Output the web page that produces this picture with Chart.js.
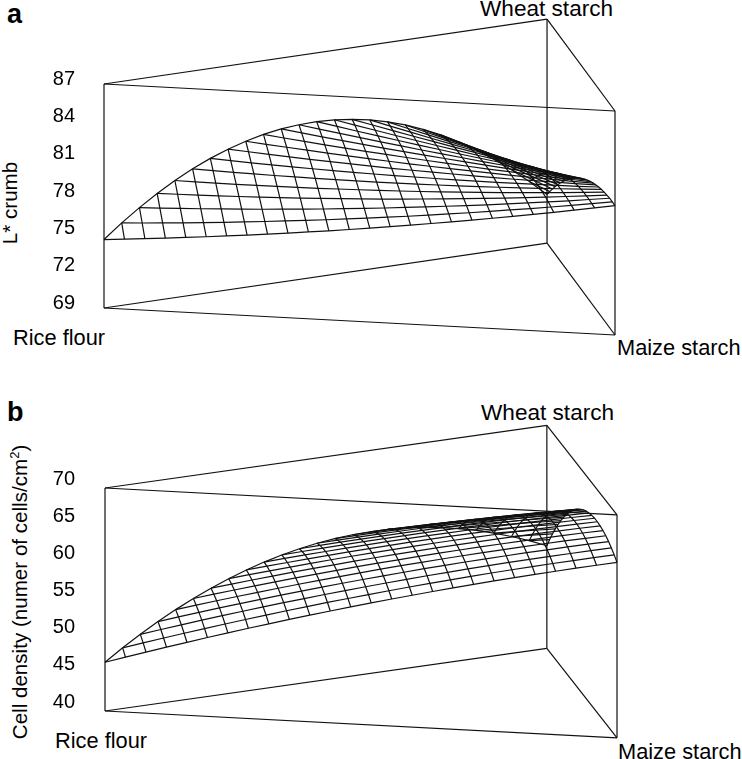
<!DOCTYPE html>
<html>
<head>
<meta charset="utf-8">
<title>Response surfaces</title>
<script src="https://cdn.jsdelivr.net/npm/chart.js@4"></script>
<style>
  html, body { margin: 0; padding: 0; background: #fff; }
  #page { position: relative; width: 742px; height: 759px; overflow: hidden; font-family: "Liberation Sans", Arial, sans-serif; color: #000; }
  canvas { position: absolute; left: 0; }
  .lab { position: absolute; font-size: 21.8px; line-height: 1; white-space: nowrap; }
  .wheat { font-size: 22.6px; }
  .letter { position: absolute; font-size: 27px; font-weight: bold; line-height: 1; }
  .ytitle { position: absolute; font-size: 20.6px; line-height: 1; white-space: nowrap; transform: translate(-50%, -50%) rotate(-90deg); }
  sup { font-size: 13px; line-height: 0; }
</style>
</head>
<body>
<div id="page">
  <div class="letter" style="left:7px;top:1px">a</div>
  <div class="letter" style="left:7px;top:399px">b</div>
  <div class="lab wheat" style="left:480px;top:-2px">Wheat starch</div>
  <div class="lab" style="left:13px;top:327px">Rice flour</div>
  <div class="lab" style="left:617px;top:337px">Maize starch</div>
  <div class="lab wheat" style="left:481px;top:402px">Wheat starch</div>
  <div class="lab" style="left:55px;top:730px">Rice flour</div>
  <div class="lab" style="left:618px;top:741px">Maize starch</div>
  <div class="ytitle" style="left:10px;top:203px">L* crumb</div>
  <div class="ytitle" style="left:20px;top:592px">Cell density (numer of cells/cm<sup>2</sup>)</div>
  <canvas id="chartA" width="742" height="385" style="top:0"></canvas>
  <canvas id="chartB" width="742" height="374" style="top:385px"></canvas>
</div>
<script>
// mesh heights, one row per wheat step, one column per maize step (rice is the rest)
const lCrumb = [
  [74.50,74.62,74.75,74.88,75.02,75.16,75.31,75.47,75.63,75.80,75.98,76.16,76.35,76.55,76.75,76.96,77.18,77.40,77.63,77.86,78.10,78.35,78.60,78.86,79.13,79.40],
  [75.63,75.71,75.80,75.90,76.00,76.11,76.23,76.35,76.48,76.61,76.75,76.90,77.06,77.22,77.38,77.56,77.74,77.92,78.12,78.32,78.52,78.73,78.95,79.18,79.41],
  [76.65,76.70,76.76,76.82,76.89,76.96,77.04,77.13,77.22,77.32,77.43,77.54,77.66,77.79,77.92,78.06,78.20,78.35,78.51,78.68,78.85,79.02,79.21,79.40],
  [77.58,77.60,77.62,77.64,77.68,77.71,77.76,77.81,77.87,77.94,78.01,78.08,78.17,78.26,78.36,78.46,78.57,78.68,78.81,78.94,79.07,79.21,79.36],
  [78.41,78.39,78.37,78.36,78.36,78.37,78.38,78.39,78.42,78.45,78.48,78.52,78.57,78.63,78.69,78.76,78.83,78.91,79.00,79.09,79.19,79.30],
  [79.14,79.08,79.03,78.99,78.95,78.92,78.90,78.88,78.87,78.86,78.86,78.87,78.88,78.90,78.93,78.96,79.00,79.05,79.10,79.16,79.22],
  [79.77,79.68,79.59,79.51,79.44,79.37,79.31,79.26,79.21,79.17,79.14,79.11,79.09,79.07,79.06,79.06,79.07,79.08,79.09,79.12],
  [80.30,80.18,80.05,79.94,79.83,79.73,79.64,79.55,79.46,79.39,79.32,79.26,79.20,79.15,79.10,79.07,79.04,79.01,78.99],
  [80.73,80.57,80.42,80.27,80.12,79.99,79.86,79.73,79.61,79.50,79.40,79.30,79.21,79.12,79.04,78.97,78.90,78.84],
  [81.07,80.87,80.68,80.49,80.31,80.14,79.98,79.82,79.67,79.52,79.38,79.24,79.12,79.00,78.88,78.77,78.67],
  [81.30,81.07,80.84,80.62,80.41,80.20,80.00,79.81,79.62,79.44,79.26,79.09,78.93,78.77,78.62,78.48],
  [81.43,81.17,80.91,80.65,80.40,80.16,79.92,79.69,79.47,79.25,79.04,78.84,78.64,78.45,78.26],
  [81.47,81.17,80.87,80.58,80.30,80.02,79.75,79.48,79.22,78.97,78.73,78.49,78.25,78.03],
  [81.41,81.07,80.74,80.41,80.09,79.78,79.47,79.17,78.88,78.59,78.31,78.04,77.77],
  [81.24,80.87,80.50,80.14,79.79,79.44,79.10,78.76,78.43,78.11,77.79,77.48],
  [80.98,80.57,80.17,79.77,79.38,79.00,78.62,78.25,77.89,77.53,77.18],
  [80.62,80.17,79.74,79.31,78.88,78.46,78.05,77.65,77.25,76.85],
  [80.16,79.68,79.21,78.74,78.28,77.83,77.38,76.94,76.50],
  [79.60,79.08,78.58,78.07,77.58,77.09,76.61,76.13],
  [78.94,78.39,77.85,77.31,76.78,76.25,75.74],
  [78.18,77.60,77.02,76.45,75.88,75.32],
  [77.32,76.70,76.09,75.48,74.88],
  [76.37,75.71,75.06,74.42],
  [75.31,74.62,73.94],
  [74.15,73.43],
  [72.90]
];

const cellDensity = [
  [46.56,47.40,48.22,49.03,49.82,50.61,51.38,52.14,52.88,53.62,54.34,55.04,55.74,56.42,57.09,57.74,58.39,59.02,59.64,60.24,60.83,61.41,61.98,62.53,63.07,63.60],
  [48.16,48.97,49.77,50.56,51.33,52.09,52.84,53.58,54.30,55.01,55.71,56.39,57.06,57.72,58.37,59.00,59.62,60.23,60.83,61.41,61.98,62.54,63.08,63.61,64.13],
  [49.64,50.43,51.21,51.98,52.73,53.47,54.19,54.91,55.61,56.30,56.97,57.63,58.28,58.92,59.54,60.15,60.75,61.34,61.91,62.47,63.02,63.55,64.07,64.58],
  [51.02,51.79,52.54,53.29,54.01,54.73,55.44,56.13,56.81,57.47,58.12,58.76,59.39,60.01,60.61,61.20,61.77,62.33,62.89,63.42,63.95,64.46,64.96],
  [52.29,53.03,53.77,54.49,55.19,55.89,56.57,57.24,57.89,58.54,59.17,59.79,60.39,60.98,61.56,62.13,62.68,63.22,63.75,64.27,64.77,65.26],
  [53.45,54.17,54.88,55.58,56.26,56.94,57.60,58.24,58.88,59.50,60.10,60.70,61.28,61.85,62.41,62.95,63.48,64.00,64.51,65.00,65.48],
  [54.50,55.20,55.89,56.56,57.23,57.88,58.51,59.14,59.75,60.35,60.93,61.50,62.06,62.61,63.15,63.67,64.18,64.67,65.16,65.63],
  [55.44,56.12,56.79,57.44,58.08,58.71,59.32,59.92,60.51,61.09,61.65,62.20,62.74,63.26,63.78,64.27,64.76,65.23,65.70],
  [56.28,56.93,57.57,58.21,58.82,59.43,60.02,60.60,61.17,61.72,62.26,62.79,63.30,63.81,64.29,64.77,65.24,65.69],
  [57.00,57.63,58.25,58.86,59.46,60.04,60.61,61.17,61.71,62.24,62.76,63.27,63.76,64.24,64.71,65.16,65.60],
  [57.62,58.23,58.83,59.41,59.98,60.54,61.09,61.63,62.15,62.66,63.15,63.64,64.11,64.56,65.01,65.44],
  [58.12,58.71,59.29,59.85,60.40,60.94,61.46,61.98,62.48,62.96,63.44,63.90,64.34,64.78,65.20],
  [58.52,59.09,59.64,60.18,60.71,61.23,61.73,62.22,62.70,63.16,63.61,64.05,64.47,64.89],
  [58.81,59.36,59.89,60.41,60.91,61.40,61.88,62.35,62.81,63.25,63.68,64.09,64.49],
  [58.99,59.51,60.02,60.52,61.00,61.47,61.93,62.37,62.81,63.23,63.63,64.03],
  [59.06,59.56,60.05,60.52,60.98,61.43,61.87,62.29,62.70,63.10,63.48],
  [59.03,59.50,59.97,60.42,60.86,61.28,61.70,62.10,62.48,62.86],
  [58.88,59.34,59.78,60.21,60.62,61.03,61.42,61.79,62.16],
  [58.63,59.06,59.48,59.89,60.28,60.66,61.03,61.38],
  [58.26,58.67,59.07,59.45,59.83,60.18,60.53],
  [57.79,58.18,58.55,58.92,59.26,59.60],
  [57.21,57.58,57.93,58.27,58.59],
  [56.52,56.86,57.19,57.51],
  [55.72,56.04,56.35],
  [54.82,55.11],
  [53.80]
];

const lCrumbTicks = [69, 87, 3];
const cellDensityTicks = [40, 70, 5];

const STEPS = 25;
const LINE = '#111';

// oblique view of the mixture triangle: how far wheat shifts right, and how maize/wheat shift in y units
const project = (view, maize, wheat, z) => ({
    x: maize + wheat * view.wheatX,
    y: z + maize * view.tiltMaize + wheat * view.tiltWheat
});

const lineSet = (points) => ({
    data: points,
    showLine: true,
    borderColor: LINE,
    borderWidth: 1.2,
    pointRadius: 0,
    clip: false,
    tension: 0
});

const buildDatasets = (heights, ticks, view) => {
    const [low, high] = ticks;
    const sets = [];
    // frame: rice, maize, wheat corners at the bottom and top of the value axis
    const corners = [[0, 0], [1, 0], [0, 1]];
    corners.forEach(([m, w], idx) => {
        const [nm, nw] = corners[(idx + 1) % 3];
        sets.push(lineSet([project(view, m, w, low), project(view, nm, nw, low)]));
        sets.push(lineSet([project(view, m, w, high), project(view, nm, nw, high)]));
        sets.push(lineSet([project(view, m, w, low), project(view, m, w, high)]));
    });
    // mesh lines along constant wheat
    heights.forEach((row, j) => {
        if (row.length > 1) {
            sets.push(lineSet(row.map((z, i) => project(view, i / STEPS, j / STEPS, z))));
        }
    });
    // mesh lines along constant rice, these run from the front edge to the back edge
    for (let k = 1; k <= STEPS; k++) {
        const points = [];
        for (let j = 0; j <= k; j++) {
            const i = k - j;
            points.push(project(view, i / STEPS, j / STEPS, heights[j][i]));
        }
        sets.push(lineSet(points));
    }
    // rice to wheat edge, the first value of each row
    sets.push(lineSet(heights.map((row, j) => project(view, 0, j / STEPS, row[0]))));
    return sets;
};

const makeChart = (id, heights, ticks, view, padding) => {
    const [low, high, step] = ticks;
    return new Chart(document.getElementById(id), {
        type: 'scatter',
        data: { datasets: buildDatasets(heights, ticks, view) },
        options: {
            responsive: false,
            animation: false,
            layout: { padding: padding },
            scales: {
                x: { type: 'linear', display: false, min: 0, max: 1 },
                y: {
                    type: 'linear',
                    min: low,
                    max: high,
                    afterFit: (scale) => { scale.width = view.axisWidth; },
                    border: { display: false },
                    grid: { display: false, drawTicks: false },
                    ticks: {
                        stepSize: step,
                        autoSkip: false,
                        color: '#000',
                        padding: view.axisWidth - 75,
                        labelOffset: view.labelOffset,
                        font: { family: '"Liberation Sans", Arial, sans-serif', size: 20 }
                    }
                }
            },
            plugins: {
                legend: { display: false },
                tooltip: { enabled: false }
            }
        }
    });
};

makeChart('chartA', lCrumb, lCrumbTicks,
    { wheatX: 0.867, tiltMaize: -2.17, tiltWheat: 5.22, axisWidth: 104, labelOffset: -5 },
    { top: 84, bottom: 77, left: 0, right: 127 });

makeChart('chartB', cellDensity, cellDensityTicks,
    { wheatX: 0.863, tiltMaize: -3.61, tiltWheat: 8.43, axisWidth: 105, labelOffset: -9 },
    { top: 103, bottom: 48, left: 0, right: 125 });
</script>
</body>
</html>
